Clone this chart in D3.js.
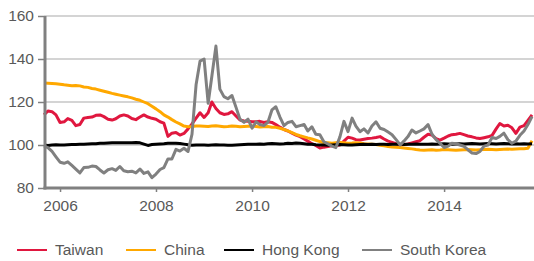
<!DOCTYPE html>
<html>
<head>
<meta charset="utf-8">
<script src="https://cdn.jsdelivr.net/npm/d3@7"></script>
<style>
  html, body { margin: 0; padding: 0; background: #fff; }
  svg { display: block; font-family: "Liberation Sans", Arial, sans-serif; }
</style>
</head>
<body>
<svg id="chart" width="534" height="261"></svg>
<script>
// ---- Data (monthly, Sep 2005 .. Nov 2015) ----
const startMonth = "2005-09";
const endMonth = "2015-11";

const taiwan = [
  114, 115.8, 115.5, 114, 110.5, 110.8, 112.3, 111.5, 109, 109.5,
  112.5, 112.8, 113, 113.8, 114, 113.2, 112, 111.6, 112.2, 113.5,
  114, 113.5, 112.3, 111.8, 113, 114, 113, 112.4, 112, 110.8,
  110.2, 104, 105.5, 105.8, 104.6, 105.4, 107.5, 109.8, 112.5, 115,
  112.8, 115, 120, 117, 115, 114.2, 114.5, 115.5, 113.5, 111.6,
  111.2, 111, 110.8, 110.8, 111, 110.5, 110.8, 110.5, 109.5, 108.3,
  107.2, 106.5, 105.5, 104.6, 103.9, 102.8, 101.8, 100.6, 99.8, 98.6,
  99, 99.3, 99.6, 99.8, 100, 101.8, 103.6, 103.2, 102.5, 102.3,
  102.7, 103, 103.2, 103.5, 103.9, 102.8, 101.8, 101.2, 100.6, 100,
  100.2, 100.5, 101, 101.5, 102, 103.6, 105, 104.6, 103, 102.3,
  103.2, 104.2, 104.8, 105, 105.4, 104.8, 104.2, 103.8, 103.3, 103,
  103.4, 103.8, 104.5, 107.5, 110, 108.8, 109.2, 108, 105.4, 108.3,
  109, 111.5, 114
];

const china = [
  128.8, 128.7, 128.6, 128.5, 128.3, 128.0, 127.8, 127.6, 127.7, 127.5,
  127.0, 126.8, 126.3, 126.0, 125.5, 125.0, 124.5, 124.0, 123.6, 123.2,
  122.8, 122.4, 121.9, 121.3, 120.8, 120.0, 119.2, 118.0, 116.8, 115.5,
  114.0, 113.0, 111.8, 110.7, 109.8, 108.8, 108.5, 108.6, 108.8, 108.8,
  108.7, 108.6, 108.8, 108.9, 108.7, 108.5, 108.6, 108.8, 108.7, 108.5,
  108.6, 108.7, 108.8, 108.6, 108.4, 108.5, 108.6, 108.3, 108.2, 107.8,
  107.2, 106.6, 105.8, 104.9, 104.3, 103.8, 103.3, 102.8, 102.2, 101.6,
  101.2, 101.0, 100.8, 101.0, 101.2, 101.0, 100.8, 100.9, 101.1, 100.9,
  100.6, 100.5, 100.4, 100.2, 99.9, 99.6, 99.3, 99.1, 99.0, 98.8,
  98.6, 98.4, 98.2, 97.9, 97.7, 97.6, 97.7, 97.8, 97.6, 97.7,
  97.9, 97.8, 97.7, 97.6, 97.7, 97.8, 97.9, 97.8, 97.7, 97.8,
  97.9, 98.0, 97.9, 97.8, 97.9, 98.0, 98.1, 98.0, 98.1, 98.2,
  98.3, 98.5, 102.0
];

const hongKong = [
  100.0, 99.8, 100.0, 100.1, 100.0, 100.0, 100.1, 100.2, 100.2, 100.3,
  100.4, 100.5, 100.6, 100.6, 100.8, 100.8, 100.9, 101.0, 101.0, 101.0,
  101.1, 101.0, 101.1, 101.2, 101.0, 100.4, 99.8, 100.2, 100.4, 100.5,
  100.6, 100.8, 100.8, 100.8, 100.7, 100.4, 100.1, 99.9, 100.0, 100.0,
  100.0, 99.9, 100.0, 100.1, 100.0, 100.0, 99.9, 99.9, 100.0, 100.1,
  100.2, 100.3, 100.3, 100.4, 100.5, 100.4, 100.6, 100.7, 100.6, 100.5,
  100.6, 100.8, 100.7, 100.9, 100.8, 100.6, 100.4, 100.3, 100.1, 100.0,
  100.0, 99.9, 100.0, 100.1, 100.2, 100.1, 100.0, 100.0, 100.1, 100.2,
  100.3, 100.2, 100.3, 100.2, 100.4, 100.3, 100.2, 100.3, 100.4, 100.3,
  100.2, 100.3, 100.4, 100.5, 100.4, 100.3, 100.4, 100.5, 100.4, 100.5,
  100.6, 100.5, 100.4, 100.5, 100.6, 100.5, 100.6, 100.7, 100.6, 100.5,
  100.6, 100.7, 100.6, 100.5, 100.6, 100.7, 100.6, 100.5, 100.6, 100.5,
  100.6, 100.5, 100.6
];

const southKorea = [
  99.5, 98.8, 97, 94.5, 92, 91.5, 92.2, 90.5, 88.8, 87,
  89.5, 89.6, 90.2, 90, 88.4, 87, 88.5, 89, 88.2, 90,
  88, 87.6, 87.8, 87, 88.8, 86.8, 87.5, 84.8, 86.5, 88.6,
  89.5, 93.5, 93.5, 98, 97.2, 98.5, 97, 105, 128, 139,
  140, 119.4, 132, 146, 126, 122.5, 121.5, 123, 117.5, 112,
  110.5, 112, 107.8, 110.8, 109.5, 109, 110.5, 116.3, 117.8, 113,
  109, 110.5, 111, 108.5, 109, 109.5, 106.5, 108.5, 105, 104.8,
  101.5, 100.5, 99.5, 98.8, 103.9, 111, 106.2, 112.5, 108.8, 106.2,
  107.5, 105.6, 108.8, 110.8, 107.8, 107.2, 106, 104.8, 102.5, 100,
  101.8, 103.9, 107, 105.6, 106.5, 107.5, 109.5, 105, 102.5, 100.8,
  98.8, 99.5, 100.8, 100.6, 100, 99.4, 97.8, 96.3, 96, 97,
  99.5, 100, 103.5, 103, 104, 105.5, 102.5, 100.8, 101.8, 104.5,
  106.5, 109.5, 113.2
];

const seriesNames = ["Taiwan", "China", "Hong Kong", "South Korea"];
const seriesColors = ["#e0173f", "#ffa800", "#000000", "#808080"];
const yTicks = [80, 100, 120, 140, 160];
const xTickYears = [2006, 2008, 2010, 2012, 2014];

(function () {
  const svg = d3.select("#chart");
  const pLeft = 44, pRight = 534, pTop = 16, pBottom = 188;

  const parseMonth = d3.timeParse("%Y-%m");
  const dates = d3.timeMonth.range(parseMonth(startMonth), d3.timeMonth.offset(parseMonth(endMonth), 1));

  const x = d3.scaleTime()
    .domain([new Date(2005, 8, 1), new Date(2015, 10, 16)])
    .range([pLeft, pRight]);
  const y = d3.scaleLinear().domain([80, 160]).range([pBottom, pTop]);

  const textColor = "#595959";
  const axisColor = "#808080";
  const fontFam = "'Liberation Sans', Arial, sans-serif";

  // Gridlines
  svg.append("g")
    .selectAll("line")
    .data(yTicks.filter(d => d > 80))
    .join("line")
    .attr("x1", pLeft).attr("x2", pRight)
    .attr("y1", d => y(d)).attr("y2", d => y(d))
    .attr("stroke", "#c6c6c6").attr("stroke-width", 1.3);

  // Y axis
  const yAxis = svg.append("g")
    .attr("transform", `translate(${pLeft},0)`)
    .call(d3.axisLeft(y).tickValues(yTicks).tickSize(6).tickPadding(4));
  yAxis.select(".domain").remove();
  yAxis.selectAll(".tick line").attr("stroke", axisColor).attr("stroke-width", 1.5);
  yAxis.selectAll(".tick text")
    .attr("fill", textColor)
    .style("font-size", "15.5px")
    .style("font-family", fontFam);

  // X axis
  const xAxis = svg.append("g")
    .attr("transform", `translate(0,${pBottom})`)
    .call(d3.axisBottom(x)
      .tickValues(xTickYears.map(yr => new Date(yr, 0, 1)))
      .tickFormat(d3.timeFormat("%Y"))
      .tickSize(4).tickPadding(8));
  xAxis.select(".domain").remove();
  xAxis.selectAll(".tick line").attr("stroke", axisColor).attr("stroke-width", 1.5);
  xAxis.selectAll(".tick text")
    .attr("fill", textColor)
    .style("font-size", "15.5px")
    .style("font-family", fontFam);

  // Lines
  const allSeries = [taiwan, china, hongKong, southKorea];
  const line = d3.line()
    .x((d, i) => x(dates[i]))
    .y(d => y(d));

  svg.append("g")
    .selectAll("path")
    .data(allSeries)
    .join("path")
    .attr("d", d => line(d))
    .attr("fill", "none")
    .attr("stroke", (d, i) => seriesColors[i])
    .attr("stroke-width", 3)
    .attr("stroke-linejoin", "round");

  // Axis lines (thick gray)
  svg.append("line")
    .attr("x1", pLeft + 1).attr("x2", pLeft + 1)
    .attr("y1", pTop).attr("y2", pBottom + 1.5)
    .attr("stroke", axisColor).attr("stroke-width", 3);
  svg.append("line")
    .attr("x1", pLeft - 0.5).attr("x2", pRight)
    .attr("y1", pBottom).attr("y2", pBottom)
    .attr("stroke", axisColor).attr("stroke-width", 3);

  // Legend
  const legendX = [17, 126, 224, 362];
  const legendY = 250;
  const lg = svg.append("g")
    .selectAll("g")
    .data(seriesNames)
    .join("g")
    .attr("transform", (d, i) => `translate(${legendX[i]},${legendY})`);
  lg.append("line")
    .attr("x1", 0).attr("x2", 30)
    .attr("y1", 0).attr("y2", 0)
    .attr("stroke", (d, i) => seriesColors[i])
    .attr("stroke-width", 2);
  lg.append("text")
    .attr("x", 38).attr("y", 0)
    .attr("dy", "0.35em")
    .attr("fill", textColor)
    .style("font-size", "15.5px")
    .style("font-family", fontFam)
    .text(d => d);
})();
</script>
</body>
</html>
